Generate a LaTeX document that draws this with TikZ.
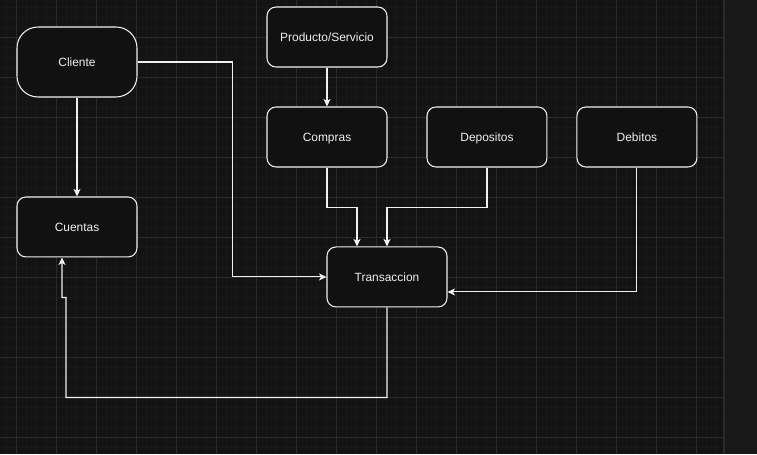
\documentclass[tikz,border=0pt]{standalone}
\usepackage{fontspec}
\setmainfont{Liberation Sans}
\usetikzlibrary{arrows.meta,positioning}

\definecolor{canvas}{HTML}{131313}
\definecolor{strip}{HTML}{181818}
\definecolor{minorgrid}{HTML}{181818}
\definecolor{majorgrid}{HTML}{2A2A2A}
\definecolor{boxfill}{HTML}{111111}
\definecolor{ink}{HTML}{F0F0F0}

\tikzset{
    box/.style = {draw=ink, line width=0.6pt, fill=boxfill, text=ink, rounded corners=0.18cm,
                  minimum width=2.4cm, minimum height=1.2cm, text height=4.9pt, text depth=0pt,
                  font=\fontsize{6.8}{8}\selectfont},
    link/.style = {->, draw=ink, line width=0.6pt}
}

\begin{document}
\begin{tikzpicture}[x=0.02cm, y=-0.02cm, on grid, node distance=2cm,
                    >={Stealth[length=0.15cm, width=0.14cm, inset=0.04cm]}]
    % canvas and grid
    \useasboundingbox (0,0) rectangle (757,454);
    \fill[canvas] (0,0) rectangle (724,454);
    \fill[strip] (724,0) rectangle (757,454);
    \foreach \k in {0,...,71}
        \draw[minorgrid, line width=0.5pt] (6.67+10*\k,0) -- ++(0,454);
    \foreach \k in {0,...,44}
        \draw[minorgrid, line width=0.5pt] (0,7+10*\k) -- ++(724,0);
    \foreach \k in {0,...,17}
        \draw[majorgrid, line width=0.5pt] (16.67+40*\k,0) -- ++(0,454);
    \foreach \k in {0,...,11}
        \draw[majorgrid, line width=0.5pt] (0,-3+40*\k) -- ++(724,0);
    \draw[majorgrid, line width=0.6pt] (724,0) -- (724,454);

    % nodes
    \node[box, rounded corners=0.42cm, minimum height=1.4cm] (cliente) at (77,62) {Cliente};
    \node[box, below=3.3cm of cliente]                (cuentas)     {Cuentas};
    \node[box]                        (producto) at (327,37) {Producto/Servicio};
    \node[box, below=2cm of producto]                 (compras)     {Compras};
    \node[box, right=3.2cm of compras]                (depositos)   {Depositos};
    \node[box, right=3cm of depositos]                (debitos)     {Debitos};
    \node[box, below right=2.8cm and 1.2cm of compras] (transaccion) {Transaccion};

    % connectors
    \draw[link] (cliente.east) -- ++(95,0) |- (transaccion);
    \draw[link] (cliente) -- (cuentas);
    \draw[link] (producto) -- (compras);
    \draw[link] (compras.south) -- ++(0,40) -| ([xshift=-0.6cm]transaccion.north);
    \draw[link] (depositos.south) -- ++(0,40) -| (transaccion.north);
    \draw[link] (debitos) |- ([yshift=-0.3cm]transaccion.east);
    \draw[link] (transaccion.south) -- ++(0,90) -| ++(-321,-100) -- ++(-4,0)
        -- ([xshift=-0.3cm]cuentas.south);
\end{tikzpicture}
\end{document}
